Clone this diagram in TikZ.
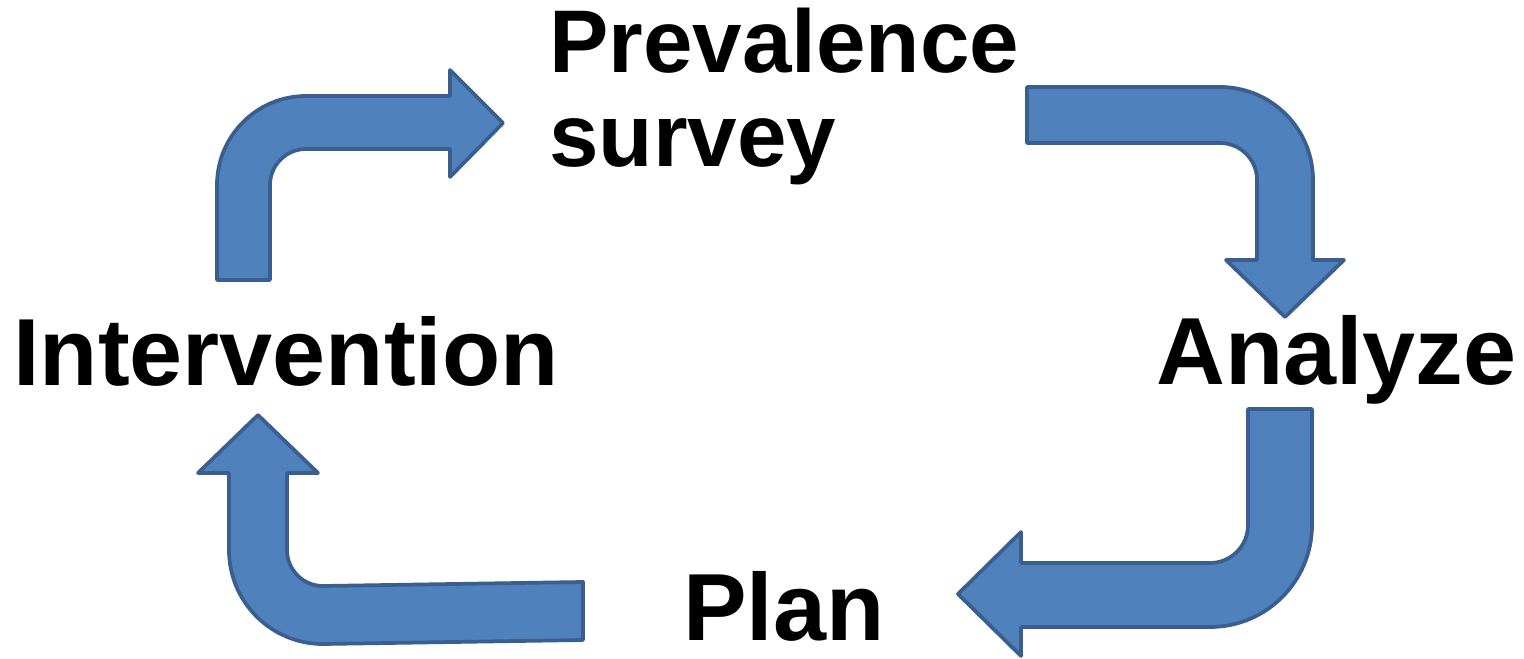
\documentclass[tikz,border=0pt]{standalone}
\usepackage{fontspec}
\setmainfont{Liberation Sans}
\definecolor{arrowfill}{HTML}{4F81BD}
\definecolor{arrowline}{HTML}{3A5F8E}
\begin{document}
\begin{tikzpicture}[x=0.75pt, y=-0.75pt,
  bentarrow/.style={fill=arrowfill, draw=arrowline, line width=2.8pt, line join=round},
  biglabel/.style={inner sep=0pt, anchor=base west, font=\bfseries\fontsize{71.5pt}{76pt}\selectfont},
  toplabel/.style={inner sep=0pt, anchor=base west, align=left, font=\bfseries\fontsize{66.75pt}{70.5pt}\selectfont}]
  % canvas
  \fill[white] (0,0) rectangle (1524,659);
  \useasboundingbox (0,0) rectangle (1524,659);

  % labels of the cycle (a two-line node sits on the baseline of its last line)
  \node[toplabel] (survey) at (549,167) {Prevalence\\survey};
  \node[biglabel] (analyze) at (1156,384) {Analyze};
  \node[biglabel] (plan) at (683,640) {Plan};
  \node[biglabel] (intervention) at (13,385) {Intervention};

  % Intervention -> Prevalence survey (up, then right)
  \draw[bentarrow] (217,280) -- (217,185) arc[start angle=180, end angle=270, radius=89]
    -- (450,96) -- (450,70) -- (503,123) -- (450,177) -- (450,149) -- (306,149)
    arc[start angle=270, end angle=180, radius=36] -- (270,280) -- cycle;

  % Prevalence survey -> Analyze (right, then down)
  \draw[bentarrow] (1027,87) -- (1220,87) arc[start angle=270, end angle=360, radius=93]
    -- (1313,260) -- (1344,260) -- (1285,317) -- (1226,260) -- (1257,260) -- (1257,180)
    arc[start angle=0, end angle=-90, radius=37] -- (1027,143) -- cycle;

  % Analyze -> Plan (down, then left)
  \draw[bentarrow] (1248,409) -- (1312,409) -- (1312,525) arc[start angle=0, end angle=90, radius=102]
    -- (1021,627) -- (1021,656) -- (958,594) -- (1021,532) -- (1021,563) -- (1210,563)
    arc[start angle=90, end angle=0, radius=38] -- cycle;

  % Plan -> Intervention (left, then up)
  \draw[bentarrow] (583,582) -- (583,640) -- (323,644) arc[start angle=90, end angle=180, radius=94]
    -- (229,473) -- (198,473) -- (258,415) -- (318,473) -- (287,473) -- (287,550)
    arc[start angle=180, end angle=90, radius=36] -- cycle;
\end{tikzpicture}
\end{document}
